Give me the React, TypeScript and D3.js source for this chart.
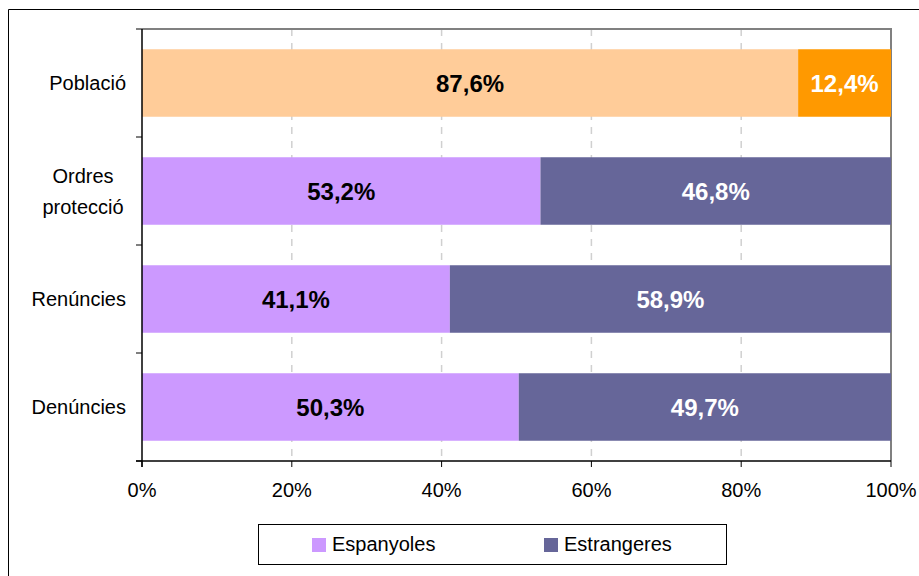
import React from "react";
import * as d3 from "d3";

const categories: string[][] = [["Població"], ["Ordres", "protecció"], ["Renúncies"], ["Denúncies"]];
const categoryKeys = ["Població", "Ordres protecció", "Renúncies", "Denúncies"];
const espanyoles = [87.6, 53.2, 41.1, 50.3];
const estrangeres = [12.4, 46.8, 58.9, 49.7];
const xTicks = [0, 20, 40, 60, 80, 100];
const seriesNames = ["Espanyoles", "Estrangeres"];

const FONT = "'Liberation Sans', Arial, sans-serif";

export default function App() {
  const W = 919, H = 576;
  const left = 142, right = 891, top = 29, bottom = 461;
  const x = d3.scaleLinear().domain([0, 100]).range([left, right]);
  const y = d3.scaleBand<string>().domain(categoryKeys).range([top, bottom]).paddingInner(0.375).paddingOuter(0.1875);
  const fmt = (v: number) => v.toFixed(1).replace(".", ",") + "%";

  const colorsA = ["#FFCC99", "#CC99FF", "#CC99FF", "#CC99FF"];
  const colorsB = ["#FF9900", "#666699", "#666699", "#666699"];
  const textB = ["#FFFFFF", "#FFFFFF", "#FFFFFF", "#FFFFFF"];

  return (
    <svg width={W} height={H} style={{ position: "absolute", left: 0, top: 0, fontFamily: FONT }}>
      <rect x={0} y={0} width={W} height={H} fill="#fff" />
      {/* outer border */}
      <path d={`M8.5,${H + 5} V9.5 H${W + 5}`} fill="none" stroke="#000" strokeWidth={1} />
      {/* gridlines */}
      {xTicks.slice(1, -1).map((t) => (
        <line key={t} x1={x(t)} x2={x(t)} y1={top} y2={bottom} stroke="#D0D0D0" strokeWidth={1.5} strokeDasharray="7,7" />
      ))}
      {/* frame top & right */}
      <path d={`M${left},${top} H${right} V${bottom}`} fill="none" stroke="#808080" strokeWidth={2} />
      {/* bars */}
      {categoryKeys.map((k, i) => {
        const y0 = y(k)!;
        const bh = y.bandwidth();
        const cy = y0 + bh / 2;
        return (
          <g key={k}>
            <rect x={x(0)} y={y0} width={x(espanyoles[i]) - x(0)} height={bh} fill={colorsA[i]} />
            <rect x={x(espanyoles[i])} y={y0} width={x(100) - x(espanyoles[i])} height={bh} fill={colorsB[i]} />
            <text x={x(espanyoles[i] / 2)} y={cy} dy="0.36em" textAnchor="middle" fontSize={24} fontWeight="bold" fill="#000">
              {fmt(espanyoles[i])}
            </text>
            <text x={x(espanyoles[i] + estrangeres[i] / 2)} y={cy} dy="0.36em" textAnchor="middle" fontSize={24} fontWeight="bold" fill={textB[i]}>
              {fmt(estrangeres[i])}
            </text>
          </g>
        );
      })}
      {/* y axis */}
      <line x1={left} x2={left} y1={top} y2={bottom + 6} stroke="#000" strokeWidth={1.5} />
      {d3.range(categoryKeys.length + 1).map((j) => {
        const yy = top + j * y.step();
        return <line key={j} x1={left - 6} x2={left} y1={yy} y2={yy} stroke="#000" strokeWidth={1} />;
      })}
      {categoryKeys.map((k, i) => {
        const cy = y(k)! + y.bandwidth() / 2;
        const lines = categories[i];
        if (lines.length === 1) {
          return (
            <text key={k} x={126} y={cy} dy="0.35em" textAnchor="end" fontSize={20} fill="#000">
              {lines[0]}
            </text>
          );
        }
        const lh = 31;
        return (
          <text key={k} x={83} y={cy - lh / 2} textAnchor="middle" fontSize={20} fill="#000">
            {lines.map((l, li) => (
              <tspan key={li} x={83} dy={li === 0 ? "0.35em" : lh}>{l}</tspan>
            ))}
          </text>
        );
      })}
      {/* x axis */}
      <line x1={left - 6} x2={right} y1={bottom} y2={bottom} stroke="#000" strokeWidth={1.5} />
      {xTicks.map((t) => (
        <g key={t}>
          <line x1={x(t)} x2={x(t)} y1={bottom} y2={bottom + 6} stroke="#000" strokeWidth={1} />
          <text x={x(t)} y={497} textAnchor="middle" fontSize={20} fill="#000">{t}%</text>
        </g>
      ))}
      {/* legend */}
      <rect x={258.5} y={524.5} width={468} height={40} fill="#fff" stroke="#000" strokeWidth={1} />
      <rect x={312} y={538} width={14} height={14} fill="#CC99FF" />
      <text x={332} y={551} fontSize={20} fill="#000">{seriesNames[0]}</text>
      <rect x={544} y={538} width={14} height={14} fill="#666699" />
      <text x={564} y={551} fontSize={20} fill="#000">{seriesNames[1]}</text>
    </svg>
  );
}
